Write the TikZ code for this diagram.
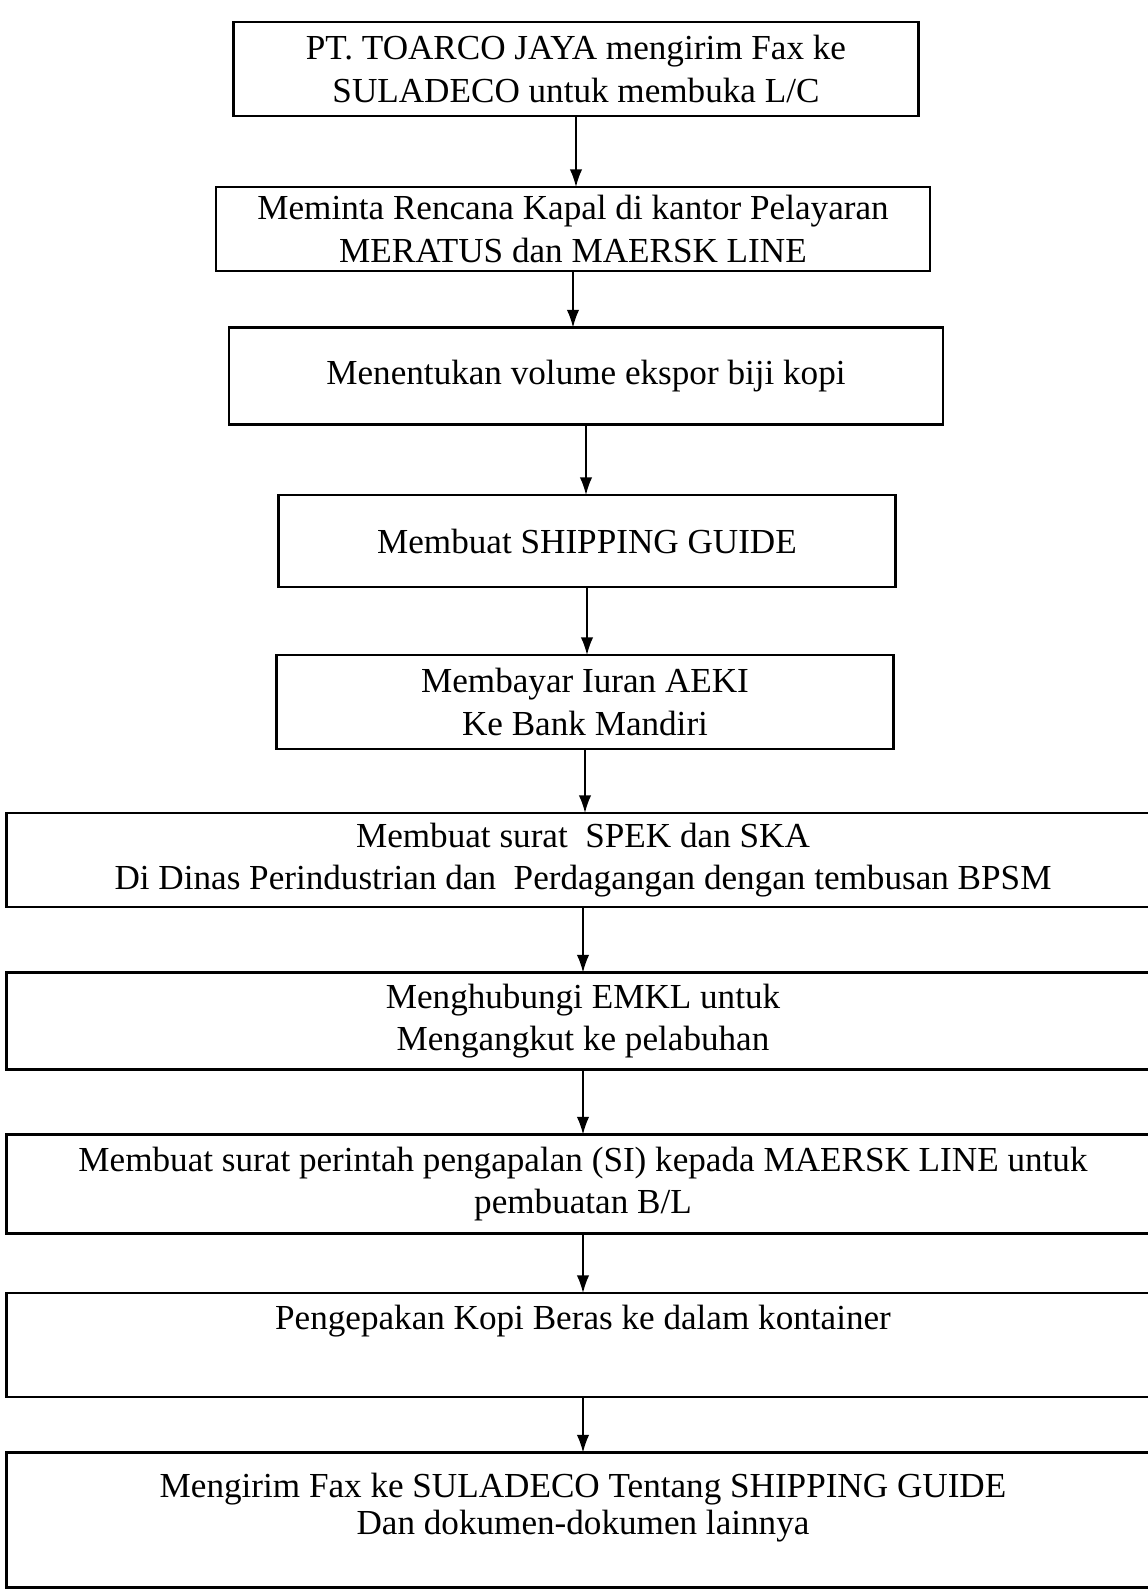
\documentclass[tikz,border=0pt]{standalone}
\usepackage{fontspec}
\setmainfont{Liberation Serif}
\usetikzlibrary{arrows.meta}
\begin{document}
\begin{tikzpicture}[x=0.02cm, y=-0.02cm,
    langkah/.style={draw, line width=1.3pt, align=center, inner sep=0pt, outer sep=0pt, font=\fontsize{20}{24}\selectfont},
    panah/.style={-{Latex[length=10pt,width=7pt]}, line width=0.9pt}]
    \useasboundingbox (0,0) rectangle (1147,1593);
    \node[langkah, minimum width=13.7cm, minimum height=1.88cm] (fax) at (576,69) {PT. TOARCO JAYA mengirim Fax ke\\SULADECO untuk membuka L/C};
    \node[langkah, minimum width=14.28cm, minimum height=1.68cm] (rencana) at (573,229) {Meminta Rencana Kapal di kantor Pelayaran\\MERATUS dan MAERSK LINE};
    \node[langkah, minimum width=14.28cm, minimum height=1.94cm] (volume) at (586,376) {Menentukan volume ekspor biji kopi};
    \node[langkah, minimum width=12.34cm, minimum height=1.84cm] (guide) at (587,541) {Membuat SHIPPING GUIDE};
    \node[langkah, minimum width=12.34cm, minimum height=1.88cm] (iuran) at (585,702) {Membayar Iuran AEKI\\Ke Bank Mandiri};
    \node[langkah, minimum width=23.06cm, minimum height=1.88cm] (spek) at (583,860) {Membuat surat\ \ SPEK dan SKA\\Di Dinas Perindustrian dan\ \ Perdagangan dengan tembusan BPSM};
    \node[langkah, minimum width=23.06cm, minimum height=1.94cm] (emkl) at (583,1021) {Menghubungi EMKL untuk\\Mengangkut ke pelabuhan};
    \node[langkah, minimum width=23.06cm, minimum height=1.98cm] (si) at (583,1184) {Membuat surat perintah pengapalan (SI) kepada MAERSK LINE untuk\\pembuatan B/L};
    \node[langkah, minimum width=23.06cm, minimum height=2.08cm] (kemas) at (583,1345) {Pengepakan Kopi Beras ke dalam kontainer\\[8pt]\mbox{}};
    \node[langkah, minimum width=23.06cm, minimum height=2.7cm] (kirim) at (583,1520) {Mengirim Fax ke SULADECO Tentang SHIPPING GUIDE\\[-3pt]Dan dokumen-dokumen lainnya\\[-6pt]\mbox{}};
    % panah antar langkah
    \foreach \a/\b in {fax/rencana, rencana/volume, volume/guide, guide/iuran, iuran/spek, spek/emkl, emkl/si, si/kemas, kemas/kirim}
        \draw[panah] (\a) -- (\a |- \b.north);
\end{tikzpicture}
\end{document}
